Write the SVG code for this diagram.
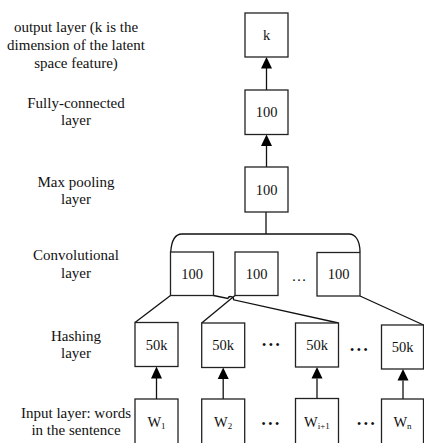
<svg xmlns="http://www.w3.org/2000/svg" width="424" height="443" viewBox="0 0 424 443">
<style>
.box{fill:#fff;stroke:#222;stroke-width:1.3}
.lbl{font-family:"Liberation Serif","Times New Roman",serif;font-size:14.5px;fill:#111;text-anchor:middle}
.side{font-family:"Liberation Serif","Times New Roman",serif;font-size:15px;fill:#111;text-anchor:middle}
.sub{font-size:9px}
.dots{font-family:"Liberation Serif",serif;font-size:12px;fill:#111;letter-spacing:2.6px}
.ln{fill:none;stroke:#111;stroke-width:1.3}
</style>
<rect width="424" height="443" fill="#fff"/>
<g id="side-labels">
<text class="side" x="76" y="32">output layer (k is the</text>
<text class="side" x="76" y="50">dimension of the latent</text>
<text class="side" x="76" y="67.5">space feature)</text>
<text class="side" x="76" y="108">Fully-connected</text>
<text class="side" x="76" y="125">layer</text>
<text class="side" x="76" y="186.5">Max pooling</text>
<text class="side" x="76" y="204">layer</text>
<text class="side" x="76" y="260">Convolutional</text>
<text class="side" x="76" y="278">layer</text>
<text class="side" x="76" y="341">Hashing</text>
<text class="side" x="76" y="358">layer</text>
<text class="side" x="76" y="417.5">Input layer: words</text>
<text class="side" x="76" y="435">in the sentence</text>
</g>
<g id="connectors">
<line class="ln" x1="266.5" y1="90" x2="266.5" y2="68"/>
<path d="M261,68.5 L272,68.5 L266.5,57 Z" fill="#000"/>
<line class="ln" x1="266.5" y1="167" x2="266.5" y2="146"/>
<path d="M261,146 L272,146 L266.5,134.5 Z" fill="#000"/>
<line class="ln" x1="266" y1="212" x2="266" y2="234"/>
<path class="ln" d="M170.7,252 C171.5,241 175,234 182,234 L349,234 C355,234 360,240 360,252"/>
<path class="ln" d="M170.5,295.5 L135,322.5"/>
<path class="ln" d="M235,295.5 L201.7,323"/>
<path class="ln" d="M213.5,295.5 L227.8,298.5 A3,3 0 0 1 233.6,299.8 L338.5,323"/>
<path class="ln" d="M360,296 L423.5,325"/>
<line class="ln" x1="156.5" y1="399" x2="156.5" y2="378"/>
<path d="M151,378.5 L162,378.5 L156.5,366.5 Z" fill="#000"/>
<line class="ln" x1="223.2" y1="399" x2="223.2" y2="379"/>
<path d="M217.7,379 L228.7,379 L223.2,367.5 Z" fill="#000"/>
<line class="ln" x1="317" y1="398.5" x2="317" y2="378.5"/>
<path d="M311.5,378.5 L322.5,378.5 L317,367 Z" fill="#000"/>
<line class="ln" x1="403" y1="399" x2="403" y2="380.5"/>
<path d="M397.5,380.5 L408.5,380.5 L403,369 Z" fill="#000"/>
</g>
<g id="out"><rect class="box" x="245" y="13" width="43" height="44"/><text class="lbl" x="266.5" y="40">k</text></g>
<g id="fc"><rect class="box" x="245" y="90" width="43" height="44.5"/><text class="lbl" x="266.5" y="117">100</text></g>
<g id="pool"><rect class="box" x="245" y="167" width="43" height="45"/><text class="lbl" x="266.5" y="194.5">100</text></g>
<g id="conv1"><rect class="box" x="170.5" y="252" width="43" height="43.5"/><text class="lbl" x="192" y="278.5">100</text></g>
<g id="conv2"><rect class="box" x="235" y="252" width="43" height="43.5"/><text class="lbl" x="256.5" y="278.5">100</text></g>
<text class="lbl" x="299" y="281" style="font-size:15px">…</text>
<g id="conv3"><rect class="box" x="317" y="252.5" width="43" height="43.5"/><text class="lbl" x="338.5" y="279">100</text></g>
<g id="hash1"><rect class="box" x="135" y="322.5" width="43" height="44"/><text class="lbl" x="156.5" y="349.5">50k</text></g>
<g id="hash2"><rect class="box" x="201.7" y="323" width="43" height="44.5"/><text class="lbl" x="223.2" y="350">50k</text></g>
<text class="dots" x="262" y="349">•••</text>
<g id="hash3"><rect class="box" x="295.5" y="323" width="43" height="44"/><text class="lbl" x="317" y="350">50k</text></g>
<text class="dots" x="350" y="354">•••</text>
<g id="hash4"><rect class="box" x="381.5" y="325" width="42" height="44"/><text class="lbl" x="402.5" y="352">50k</text></g>
<g id="in1"><rect class="box" x="135" y="399" width="43" height="50"/><text class="lbl" x="156.5" y="427">W<tspan class="sub" dy="2">1</tspan></text></g>
<g id="in2"><rect class="box" x="201.7" y="399" width="43" height="50"/><text class="lbl" x="223.2" y="427">W<tspan class="sub" dy="2">2</tspan></text></g>
<text class="dots" x="261.5" y="428">•••</text>
<g id="in3"><rect class="box" x="295.5" y="398.5" width="43" height="50"/><text class="lbl" x="317" y="427">W<tspan class="sub" dy="2">i+1</tspan></text></g>
<text class="dots" x="357" y="428">•••</text>
<g id="in4"><rect class="box" x="381.5" y="399" width="42" height="50"/><text class="lbl" x="402.5" y="427">W<tspan class="sub" dy="2">n</tspan></text></g>
</svg>
